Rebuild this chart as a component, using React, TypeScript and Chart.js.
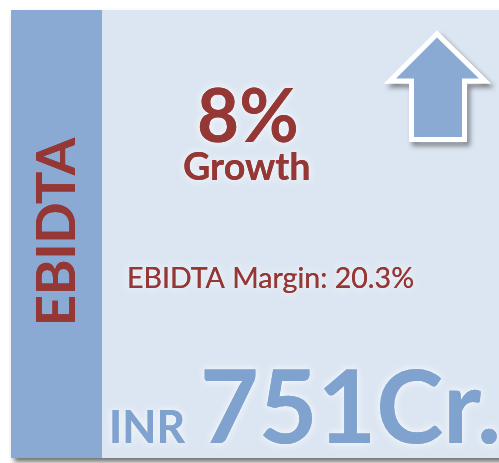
import React, { useEffect, useRef } from "react";
import { Chart, registerables } from "chart.js";

Chart.register(...registerables);

const metricLabels = ["EBIDTA"];
const growthPct = [8];
const growthLabel = ["Growth"];
const marginLabel = ["EBIDTA Margin"];
const marginPct = [20.3];
const currencyLabel = ["INR"];
const valueCr = [751];

const RED = "#953735";
const BAND = "#8aaad3";
const PANEL = "#dce6f2";
const BIG_BLUE = "#7fa2cf";

function fitText(
  ctx: CanvasRenderingContext2D,
  text: string,
  weight: string,
  family: string,
  left: number,
  right: number,
  capTop: number,
  baseline: number,
  color: string,
  glow: string
) {
  ctx.save();
  ctx.font = `${weight} 100px ${family}`;
  const a = ctx.measureText("H").actualBoundingBoxAscent || 72;
  const size = (100 * (baseline - capTop)) / a;
  ctx.font = `${weight} ${size}px ${family}`;
  const m = ctx.measureText(text);
  const ink = m.actualBoundingBoxLeft + m.actualBoundingBoxRight;
  const sx = (right - left) / ink;
  ctx.translate(left, baseline);
  ctx.scale(sx, 1);
  ctx.fillStyle = color;
  ctx.textBaseline = "alphabetic";
  ctx.textAlign = "left";
  ctx.shadowColor = glow;
  ctx.shadowBlur = 8;
  ctx.fillText(text, m.actualBoundingBoxLeft, 0);
  ctx.shadowBlur = 0;
  ctx.fillText(text, m.actualBoundingBoxLeft, 0);
  ctx.restore();
}

const infographic = {
  id: "infographic",
  beforeDraw(chart: any) {
    const ctx: CanvasRenderingContext2D = chart.ctx;
    ctx.save();
    // panel with shadow
    ctx.shadowColor = "rgba(0,0,0,0.55)";
    ctx.shadowBlur = 5;
    ctx.shadowOffsetX = 3;
    ctx.shadowOffsetY = 4;
    ctx.fillStyle = PANEL;
    ctx.fillRect(11, 10, 520, 448);
    ctx.restore();
    ctx.save();
    ctx.fillStyle = BAND;
    ctx.fillRect(11, 10, 91, 448);
    ctx.restore();

    // arrow
    ctx.save();
    ctx.beginPath();
    ctx.moveTo(437, 34);
    ctx.lineTo(485, 81);
    ctx.lineTo(464.5, 81);
    ctx.lineTo(464.5, 139.5);
    ctx.lineTo(411.5, 139.5);
    ctx.lineTo(411.5, 81);
    ctx.lineTo(390, 81);
    ctx.closePath();
    ctx.lineJoin = "miter";
    ctx.shadowColor = "rgba(0,0,0,0.45)";
    ctx.shadowBlur = 5;
    ctx.shadowOffsetX = 3;
    ctx.shadowOffsetY = 4;
    ctx.strokeStyle = "#ffffff";
    ctx.lineWidth = 5;
    ctx.stroke();
    ctx.shadowColor = "transparent";
    ctx.fillStyle = BAND;
    ctx.fill();
    ctx.stroke();
    ctx.restore();

    const glowW = "rgba(255,255,255,0.9)";
    // vertical label
    ctx.save();
    ctx.translate(75, 322);
    ctx.rotate(-Math.PI / 2);
    fitText(ctx, metricLabels[0], "bold", "Lato", 0, 185, -39, 0, RED, "rgba(0,0,0,0)");
    ctx.restore();

    fitText(ctx, `${growthPct[0]}%`, "bold", "Lato", 199, 296, 87, 142, RED, glowW);
    fitText(ctx, growthLabel[0], "bold", "Lato", 184, 309, 152, 180, RED, glowW);
    fitText(
      ctx,
      `${marginLabel[0]}: ${marginPct[0].toFixed(1)}%`,
      "normal",
      "Lato",
      129,
      413,
      267,
      288,
      RED,
      glowW
    );
    fitText(ctx, currencyLabel[0], "bold", "Lato", 112, 186, 410, 443, BIG_BLUE, glowW);
    fitText(ctx, `${valueCr[0]}Cr.`, "bold", "Lato", 204, 497, 369, 443, BIG_BLUE, glowW);
  },
};

export default function App() {
  const ref = useRef<HTMLCanvasElement | null>(null);
  useEffect(() => {
    document.body.style.margin = "0";
    const canvas = ref.current;
    if (!canvas) return;
    const chart = new Chart(canvas, {
      type: "bar",
      data: { labels: metricLabels, datasets: [] },
      options: {
        animation: false,
        responsive: false,
        devicePixelRatio: 1,
        layout: { padding: 0 },
        scales: { x: { display: false }, y: { display: false } },
        plugins: { legend: { display: false }, tooltip: { enabled: false } },
      },
      plugins: [infographic],
    });
    return () => chart.destroy();
  }, []);
  return (
    <div style={{ width: 499, height: 463, background: "#ffffff" }}>
      <canvas ref={ref} width={499} height={463} />
    </div>
  );
}
